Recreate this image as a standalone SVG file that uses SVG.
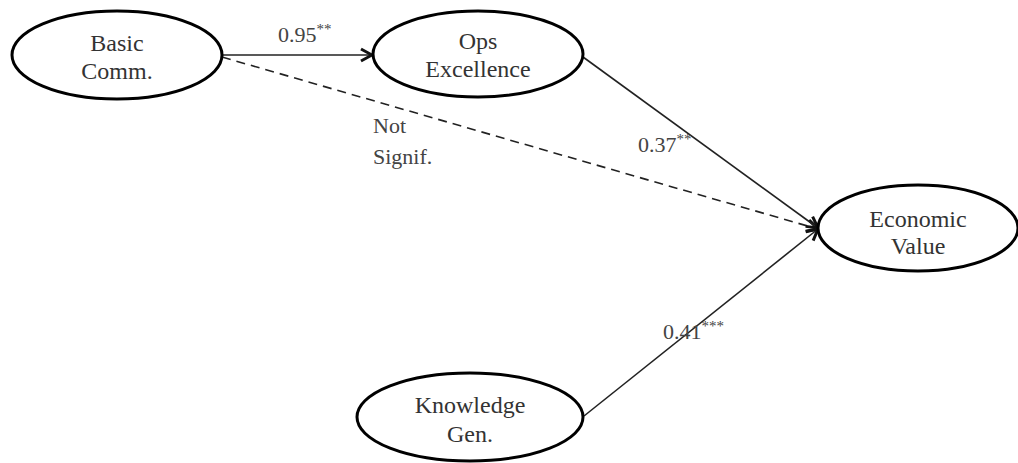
<svg xmlns="http://www.w3.org/2000/svg" width="1018" height="463" viewBox="0 0 1018 463">
<style>
.node ellipse{fill:#fff;stroke:#000;stroke-width:3}
.node text{font-size:24px;fill:#333;text-anchor:middle}
.lbl{font-size:22px;fill:#444}
.sup{font-size:15px}
.edge{stroke:#222;stroke-width:1.6;fill:none}
.dash{stroke-dasharray:9 6}
</style>
<defs>
<marker id="arr" viewBox="0 0 16 16" refX="14" refY="8" markerWidth="16" markerHeight="16" markerUnits="userSpaceOnUse" orient="auto">
<path d="M3,2 L14,8 L3,14" fill="none" stroke="#111" stroke-width="3" stroke-linejoin="miter"/>
</marker>
</defs>
<rect width="1018" height="463" fill="#fff"/>
<g font-family="Liberation Serif, DejaVu Serif, serif">
<g id="connectors">
<line class="edge" x1="222" y1="55" x2="372" y2="55" marker-end="url(#arr)"/>
<line class="edge dash" x1="222" y1="57" x2="818" y2="229" marker-end="url(#arr)"/>
<line class="edge" x1="583" y1="57" x2="818" y2="228" marker-end="url(#arr)"/>
<line class="edge" x1="584" y1="416" x2="818" y2="229" marker-end="url(#arr)"/>
<text class="lbl" x="278" y="42">0.95<tspan class="sup" dy="-8">**</tspan></text>
<text class="lbl" x="373" y="133">Not</text>
<text class="lbl" x="373" y="164">Signif.</text>
<text class="lbl" x="638" y="152">0.37<tspan class="sup" dy="-8">**</tspan></text>
<text class="lbl" x="663" y="339">0.41<tspan class="sup" dy="-8">***</tspan></text>
</g>
<g id="basic" class="node">
<ellipse cx="117" cy="55" rx="105" ry="44"/>
<text x="117" y="51">Basic</text>
<text x="117" y="79">Comm.</text>
</g>
<g id="ops" class="node">
<ellipse cx="478" cy="54" rx="105" ry="43"/>
<text x="478" y="49">Ops</text>
<text x="478" y="77">Excellence</text>
</g>
<g id="econ" class="node">
<ellipse cx="918" cy="228" rx="100" ry="43"/>
<text x="918" y="227">Economic</text>
<text x="918" y="254">Value</text>
</g>
<g id="knowledge" class="node">
<ellipse cx="470" cy="417" rx="113" ry="44"/>
<text x="470" y="413">Knowledge</text>
<text x="470" y="442">Gen.</text>
</g>
</g>
</svg>
